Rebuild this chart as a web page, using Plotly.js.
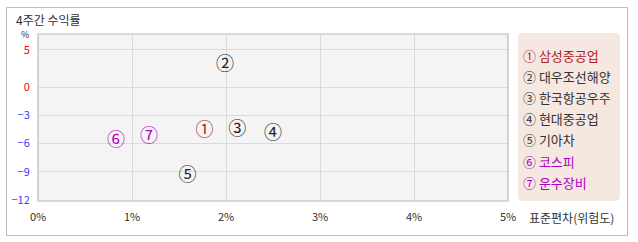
<!DOCTYPE html>
<html><head><meta charset="utf-8">
<script src="https://cdn.plot.ly/plotly-3.0.1.min.js"></script>
<style>html,body{margin:0;padding:0;background:#fff;}#c{width:638px;height:242px;}</style>
</head><body><div id="c"></div>
<script>
const marks = ['①','②','③','④','⑤','⑥','⑦'];
const names = ['삼성중공업','대우조선해양','한국항공우주','현대중공업','기아차','코스피','운수장비'];
const stdev = [1.77, 1.99, 2.12, 2.50, 1.59, 0.83, 1.18];
const ret4w = [-4.7, 2.9, -4.6, -5.0, -9.5, -5.8, -5.4];
const colors = ['#b01c1c','#222222','#222222','#222222','#222222','#b000c0','#b000c0'];
const xTicks = [0,1,2,3,4,5];
const xTickText = ['0%','1%','2%','3%','4%','5%'];
const yUpperTicks = [0,5];
const yLowerTicks = [-3,-6,-9,-12];

const W = 638, H = 242, L = 38, R = 130, T = 34, B = 41;
const pw = W - L - R, ph = H - T - B;
const px = x => (x - L) / pw;
const py = y => (H - B - y) / ph;
const split = py(89);

const font = '"Noto Sans CJK KR", "DejaVu Sans", sans-serif';

const traces = marks.map((m, i) => ({
  type: 'scatter', mode: 'text',
  x: [stdev[i]], y: [ret4w[i]],
  yaxis: ret4w[i] >= 0 ? 'y2' : 'y',
  text: [m], textposition: 'middle center',
  textfont: {family: font, size: 18, color: colors[i]},
  cliponaxis: false, hoverinfo: 'skip', showlegend: false
}));

const annotations = [];
marks.forEach((m, i) => {
  annotations.push({
    xref: 'paper', yref: 'paper', x: px(521), y: py(55 + i * 21.2),
    xanchor: 'left', yanchor: 'middle', showarrow: false,
    text: m + ' ' + names[i],
    font: {family: font, size: 13, color: colors[i] === '#222222' ? '#333333' : colors[i]}
  });
});
annotations.push({xref:'paper', yref:'paper', x: px(25), y: py(34), xanchor:'center', yanchor:'middle',
  showarrow:false, text:'%', font:{family:font, size:9, color:'#333'}});
annotations.push({xref:'paper', yref:'paper', x: px(527), y: py(217), xanchor:'left', yanchor:'middle',
  showarrow:false, text:'표준편차(위험도)', font:{family:font, size:12, color:'#333'}});

const rx = 5 / pw, ry = 5 / ph;
const lx0 = px(518), lx1 = px(620), ly0 = py(201), ly1 = py(33);
const legendPath = `M ${lx0+rx} ${ly1} L ${lx1-rx} ${ly1} Q ${lx1} ${ly1} ${lx1} ${ly1-ry} L ${lx1} ${ly0+ry} Q ${lx1} ${ly0} ${lx1-rx} ${ly0} L ${lx0+rx} ${ly0} Q ${lx0} ${ly0} ${lx0} ${ly0+ry} L ${lx0} ${ly1-ry} Q ${lx0} ${ly1} ${lx0+rx} ${ly1} Z`;

const shapes = [
  {type:'rect', xref:'paper', yref:'paper', x0: px(6.5), x1: px(627.5), y0: py(235.5), y1: py(7.5),
   line:{color:'#bdbdbd', width:1}, layer:'below'},
  {type:'path', xref:'paper', yref:'paper', path: legendPath, fillcolor:'#f5e8e1', line:{width:0}, layer:'below'},
  {type:'rect', xref:'paper', yref:'paper', x0:0, x1:1, y0:0, y1:1, line:{color:'#b8b8b8', width:1.2}}
];

const layout = {
  width: W, height: H,
  margin: {l: L, r: R, t: T, b: B, pad: 0},
  paper_bgcolor: '#ffffff', plot_bgcolor: '#f4f4f4',
  title: {text: '4주간 수익률', x: 16 / W, xanchor: 'left', xref: 'container',
          y: 1 - 21 / H, yanchor: 'middle', yref: 'container',
          font: {family: font, size: 12, color: '#333'}},
  xaxis: {range: [0, 5], tickvals: xTicks, ticktext: xTickText, showgrid: true, gridcolor: '#dadada',
          zeroline: false, showline: false, ticks: 'outside', ticklen: 6, tickcolor: 'rgba(0,0,0,0)',
          tickfont: {family: font, size: 11, color: '#333'}, fixedrange: true},
  yaxis: {domain: [0, split], range: [-12.106, -0.21], tickvals: yLowerTicks, showgrid: true,
          gridcolor: '#dadada', zeroline: false, ticks: 'outside', ticklen: 5, tickcolor: 'rgba(0,0,0,0)',
          tickfont: {family: font, size: 11, color: '#3a3aff'}},
  yaxis2: {domain: [split, 1], range: [-0.27, 7.16], tickvals: yUpperTicks, showgrid: true,
          gridcolor: '#dadada', zeroline: false, ticks: 'outside', ticklen: 5, tickcolor: 'rgba(0,0,0,0)',
          tickfont: {family: font, size: 11, color: '#ff0000'}},
  shapes, annotations, showlegend: false
};

Plotly.newPlot('c', traces, layout, {staticPlot: true, displayModeBar: false});
</script></body></html>
